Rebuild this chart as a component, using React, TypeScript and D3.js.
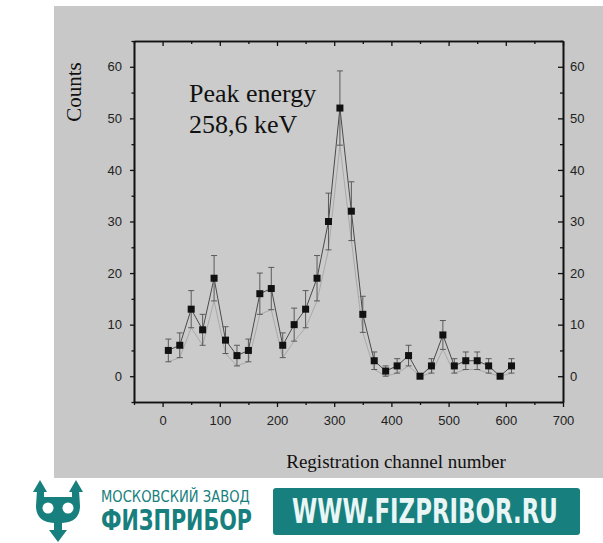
import * as d3 from 'd3';
import React, { useEffect, useRef } from 'react';

// channel numbers and counts
const channels = [10, 30, 50, 70, 90, 110, 130, 150, 170, 190, 210, 230, 250, 270, 290, 310, 330, 350, 370, 390, 410, 430, 450, 470, 490, 510, 530, 550, 570, 590, 610];
const counts = [5, 6, 13, 9, 19, 7, 4, 5, 16, 17, 6, 10, 13, 19, 30, 52, 32, 12, 3, 1, 2, 4, 0, 2, 8, 2, 3, 3, 2, 0, 2];
const errors = [2.2, 2.4, 3.6, 3, 4.4, 2.6, 2, 2.2, 4, 4.1, 2.4, 3.2, 3.6, 4.4, 5.5, 7.2, 5.7, 3.5, 1.7, 1, 1.4, 2, 0, 1.4, 2.8, 1.4, 1.7, 1.7, 1.4, 0, 1.4];

const xTicks = [0, 100, 200, 300, 400, 500, 600, 700];
const xMinor = [-50, 50, 150, 250, 350, 450, 550, 650];
const yTicks = [0, 10, 20, 30, 40, 50, 60];
const yMinor = [-5, 5, 15, 25, 35, 45, 55, 65];

const annotation = ['Peak energy', '258,6 keV'];

const App = () => {
  const ref = useRef<SVGSVGElement | null>(null);

  useEffect(() => {
    if (!ref.current) return;
    const svg = d3.select(ref.current);
    svg.selectAll('*').remove();

    const W = 603, H = 543;
    const left = 134, right = 563, top = 41, bottom = 402;

    // gray scanned panel
    svg.append('rect').attr('x', 0).attr('y', 0).attr('width', W).attr('height', H).attr('fill', '#ffffff');
    svg.append('rect').attr('x', 54).attr('y', 6).attr('width', W - 54).attr('height', 472).attr('fill', '#c8c8c8');
    svg.append('rect').attr('x', left).attr('y', top).attr('width', right - left).attr('height', bottom - top).attr('fill', '#cbcbcb');

    const x = d3.scaleLinear().domain([-50, 700]).range([left, right]);
    const y = d3.scaleLinear().domain([-5, 65]).range([bottom, top]);

    const styleAxis = (g: any) => {
      g.select('.domain').attr('stroke', '#111').attr('stroke-width', 1.6);
      g.selectAll('.tick line').attr('stroke', '#111').attr('stroke-width', 1.3);
      g.selectAll('.tick text')
        .attr('fill', '#222')
        .style('font-family', '"Liberation Sans", Arial, sans-serif')
        .style('font-size', '13px');
    };

    // bottom
    svg.append('g').attr('transform', `translate(0,${bottom})`)
      .call(d3.axisBottom(x).tickValues(xTicks).tickSizeInner(5).tickSizeOuter(0).tickPadding(9).tickFormat(d3.format('d')))
      .call(styleAxis);
    svg.append('g').attr('transform', `translate(0,${bottom})`)
      .call(d3.axisBottom(x).tickValues(xMinor).tickSizeInner(3).tickSizeOuter(0).tickFormat(() => ''))
      .call(styleAxis);
    // top
    svg.append('g').attr('transform', `translate(0,${top})`)
      .call(d3.axisTop(x).tickValues(xTicks).tickSizeInner(-5).tickSizeOuter(0).tickFormat(() => ''))
      .call(styleAxis);
    svg.append('g').attr('transform', `translate(0,${top})`)
      .call(d3.axisTop(x).tickValues(xMinor).tickSizeInner(-3).tickSizeOuter(0).tickFormat(() => ''))
      .call(styleAxis);
    // left
    svg.append('g').attr('transform', `translate(${left},0)`)
      .call(d3.axisLeft(y).tickValues(yTicks).tickSizeInner(4).tickSizeOuter(0).tickPadding(8).tickFormat(d3.format('d')))
      .call(styleAxis);
    svg.append('g').attr('transform', `translate(${left},0)`)
      .call(d3.axisLeft(y).tickValues(yMinor).tickSizeInner(2.5).tickSizeOuter(0).tickFormat(() => ''))
      .call(styleAxis);
    // right
    svg.append('g').attr('transform', `translate(${right},0)`)
      .call(d3.axisRight(y).tickValues(yTicks).tickSizeInner(-5).tickSizeOuter(0).tickPadding(7).tickFormat(d3.format('d')))
      .call(styleAxis);
    svg.append('g').attr('transform', `translate(${right},0)`)
      .call(d3.axisRight(y).tickValues(yMinor).tickSizeInner(-3).tickSizeOuter(0).tickFormat(() => ''))
      .call(styleAxis);

    const pts = channels.map((c, i) => ({ c, v: counts[i], e: errors[i] }));

    // faint line along the lower error ends
    svg.append('path')
      .datum(pts)
      .attr('fill', 'none')
      .attr('stroke', '#9a9a9a')
      .attr('stroke-width', 0.7)
      .attr('d', d3.line<any>().x(d => x(d.c)).y(d => y(d.v - d.e)));

    // connecting line
    svg.append('path')
      .datum(pts)
      .attr('fill', 'none')
      .attr('stroke', '#4a4a4a')
      .attr('stroke-width', 1)
      .attr('d', d3.line<any>().x(d => x(d.c)).y(d => y(d.v)));

    // error bars
    const eb = svg.append('g').attr('stroke', '#5a5a5a').attr('stroke-width', 1);
    pts.filter(d => d.e > 0).forEach(d => {
      const cx = x(d.c);
      eb.append('line').attr('x1', cx).attr('x2', cx).attr('y1', y(d.v - d.e)).attr('y2', y(d.v + d.e));
      eb.append('line').attr('x1', cx - 3).attr('x2', cx + 3).attr('y1', y(d.v + d.e)).attr('y2', y(d.v + d.e));
      eb.append('line').attr('x1', cx - 3).attr('x2', cx + 3).attr('y1', y(d.v - d.e)).attr('y2', y(d.v - d.e));
    });

    // square markers
    svg.append('g').selectAll('rect')
      .data(pts)
      .join('rect')
      .attr('x', d => x(d.c) - 3.5)
      .attr('y', d => y(d.v) - 3.5)
      .attr('width', 7)
      .attr('height', 7)
      .attr('fill', '#111');

    // labels
    const serif = '"Liberation Serif", "Times New Roman", serif';
    svg.append('text')
      .attr('transform', 'translate(81,92) rotate(-90)')
      .attr('text-anchor', 'middle')
      .style('font-family', serif)
      .style('font-size', '21px')
      .attr('fill', '#111')
      .text('Counts');
    svg.append('text')
      .attr('x', 396).attr('y', 468)
      .attr('text-anchor', 'middle')
      .style('font-family', serif)
      .style('font-size', '19px')
      .attr('fill', '#111')
      .text('Registration channel number');
    svg.append('g').selectAll('text')
      .data(annotation)
      .join('text')
      .attr('x', 189)
      .attr('y', (d, i) => 102 + i * 31)
      .style('font-family', serif)
      .style('font-size', '26px')
      .attr('fill', '#111')
      .text(d => d);

    // logo
    const teal = '#17807e';
    const logo = svg.append('g').attr('fill', teal);
    logo.append('path').attr('d', 'M33,492 L40,480 L47,492 Z');
    logo.append('path').attr('d', 'M69,492 L76,480 L83,492 Z');
    logo.append('path').attr('d', 'M37,490 L44,490 L44,497 L72,497 L72,490 L79,490 L80,506 Q80,522 62,523 L54,523 Q36,522 36,506 Z');
    logo.append('rect').attr('x', 54).attr('y', 520).attr('width', 8).attr('height', 12);
    logo.append('path').attr('d', 'M49,530 L67,530 L58,542 Z');
    logo.append('circle').attr('cx', 48).attr('cy', 508).attr('r', 5.5).attr('fill', '#ffffff');
    logo.append('circle').attr('cx', 68).attr('cy', 508).attr('r', 5.5).attr('fill', '#ffffff');

    // squeeze a text horizontally to a target width (condensed logo lettering)
    const squeezed = (tx: number, ty: number, width: number, size: number, bold: boolean, fill: string, label: string) => {
      const g = svg.append('g');
      const t = g.append('text')
        .attr('x', 0).attr('y', 0)
        .style('font-family', '"DejaVu Sans", sans-serif')
        .style('font-size', `${size}px`)
        .style('font-weight', bold ? 'bold' : 'normal')
        .attr('fill', fill)
        .text(label);
      const natural = (t.node() as SVGTextElement).getComputedTextLength() || width;
      g.attr('transform', `translate(${tx},${ty}) scale(${width / natural},1)`);
    };

    squeezed(101, 502, 149, 16, false, teal, 'МОСКОВСКИЙ ЗАВОД');
    squeezed(101, 530, 151, 29, true, teal, 'ФИЗПРИБОР');

    svg.append('rect').attr('x', 273).attr('y', 488).attr('width', 307).attr('height', 47).attr('rx', 3).attr('fill', teal);
    squeezed(292, 523, 266, 33, true, '#eaf6f6', 'WWW.FIZPRIBOR.RU');
  }, []);

  return (
    <div style={{ position: 'absolute', left: 0, top: 0 }}>
      <svg ref={ref} width={603} height={543} style={{ display: 'block' }} />
    </div>
  );
};

export default App;
